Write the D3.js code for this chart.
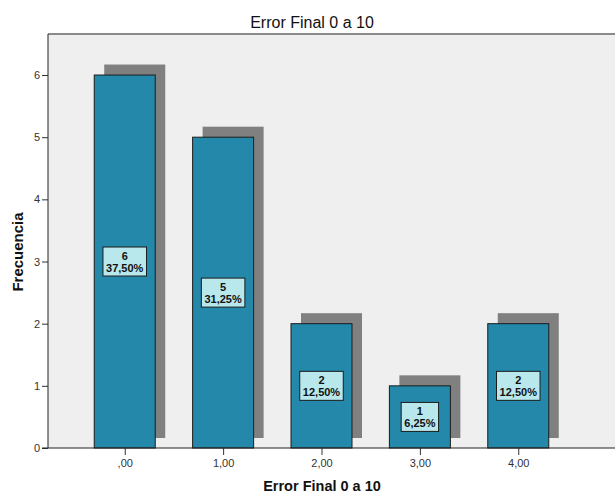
<!DOCTYPE html>
<html>
<head>
<meta charset="utf-8">
<script src="https://cdn.jsdelivr.net/npm/d3@7"></script>
<style>
  body { margin: 0; background: #fff; }
  svg { display: block; font-family: "Liberation Sans", Arial, sans-serif; }
  .tick text { fill: #333; font-size: 11px; }
  .axisTitle { font-weight: bold; fill: #111; }
  .lbl { font-family: "Liberation Sans Narrow", "Arial Narrow", "Liberation Sans", sans-serif; font-weight: bold; font-size: 11px; fill: #111; }
</style>
</head>
<body>
<script>

const categories = [0, 1, 2, 3, 4];
const tickLabels = [",00", "1,00", "2,00", "3,00", "4,00"];
const counts = [6, 5, 2, 1, 2];
const percents = ["37,50%", "31,25%", "12,50%", "6,25%", "12,50%"];
const yTicks = [0, 1, 2, 3, 4, 5, 6];

const data = categories.map((c, i) => ({cat: c, n: counts[i], pct: percents[i], label: tickLabels[i]}));

const w = 615, h = 494;
const margin = ({top: 34, right: 0, bottom: 46, left: 48});
const shadowOff = 10;
const halfBar = 0.31;

const svg = d3.select("body")
    .append("svg")
    .attr("width", w)
    .attr("height", h);

let x = d3.scaleLinear()
    .domain([-0.78, 4.78])
    .range([margin.left, 595]);

let y = d3.scaleLinear()
    .domain([0, 6.66])
    .range([h - margin.bottom, margin.top]);

// plot background
svg.append("rect")
    .attr("x", margin.left)
    .attr("y", margin.top)
    .attr("width", w - margin.left)
    .attr("height", y(0) - margin.top)
    .attr("fill", "#efefef");

svg.append("line")
    .attr("x1", margin.left).attr("x2", w)
    .attr("y1", margin.top).attr("y2", margin.top)
    .attr("stroke", "#8a8a8a")
    .attr("stroke-width", 2);

// shadows
svg.selectAll("rect.shadow")
    .data(data)
    .enter().append("rect")
    .attr("class", "shadow")
    .attr("x", d => x(d.cat - halfBar) + shadowOff)
    .attr("y", d => y(d.n) - shadowOff - 0.5)
    .attr("width", d => x(d.cat + halfBar) - x(d.cat - halfBar))
    .attr("height", d => y(0) - y(d.n) + 0.5)
    .attr("fill", "#808080");

// bars
svg.selectAll("rect.bar")
    .data(data)
    .enter().append("rect")
    .attr("class", "bar")
    .attr("x", d => x(d.cat - halfBar))
    .attr("y", d => y(d.n))
    .attr("width", d => x(d.cat + halfBar) - x(d.cat - halfBar))
    .attr("height", d => y(0) - y(d.n))
    .attr("fill", "#2488aa")
    .attr("stroke", "#1c1c1c")
    .attr("stroke-width", 1);

// axes
let yAxis = d3.axisLeft(y)
    .tickValues(yTicks)
    .tickSize(6)
    .tickPadding(2)
    .tickFormat(d3.format("d"));

let gy = svg.append("g")
    .attr("transform", `translate(${margin.left},0)`)
    .call(yAxis);
gy.select(".domain").remove();
gy.selectAll(".tick line").attr("stroke", "#333");

svg.append("line")
    .attr("x1", margin.left).attr("x2", margin.left)
    .attr("y1", margin.top).attr("y2", y(0))
    .attr("stroke", "#222");

let xAxis = d3.axisBottom(x)
    .tickValues(categories)
    .tickSize(7)
    .tickPadding(4)
    .tickFormat((d, i) => tickLabels[i]);

let gx = svg.append("g")
    .attr("transform", `translate(0,${y(0)})`)
    .call(xAxis);
gx.select(".domain").remove();
gx.selectAll(".tick line").attr("stroke", "#333");

svg.append("line")
    .attr("x1", margin.left - 6).attr("x2", w)
    .attr("y1", y(0)).attr("y2", y(0))
    .attr("stroke", "#222");

// value labels
let lbl = svg.selectAll("g.lbl")
    .data(data)
    .enter().append("g")
    .attr("class", "lbl")
    .attr("transform", d => `translate(${x(d.cat)},${y(d.n / 2)})`);

let box = lbl.append("rect")
    .attr("fill", "#b8e8ec")
    .attr("stroke", "#1c1c1c")
    .attr("stroke-width", 1);

let txt = lbl.append("text")
    .attr("class", "lbl")
    .attr("text-anchor", "middle");

txt.append("tspan").attr("x", 0).attr("y", -2).text(d => d.n);
txt.append("tspan").attr("x", 0).attr("y", 10.5).text(d => d.pct);

txt.each(function() {
    const bb = this.getBBox();
    d3.select(this.parentNode).select("rect")
        .attr("x", -bb.width / 2 - 3)
        .attr("y", -14.5)
        .attr("width", bb.width + 6)
        .attr("height", 29);
});

// titles
svg.append("text")
    .attr("x", 312)
    .attr("y", 27.5)
    .attr("text-anchor", "middle")
    .attr("font-size", "16px")
    .attr("fill", "#111")
    .text("Error Final 0 a 10");

svg.append("text")
    .attr("class", "axisTitle")
    .attr("x", 322)
    .attr("y", 490.5)
    .attr("text-anchor", "middle")
    .attr("font-size", "14.5px")
    .text("Error Final 0 a 10");

svg.append("text")
    .attr("class", "axisTitle")
    .attr("transform", "translate(23,252) rotate(-90)")
    .attr("text-anchor", "middle")
    .attr("font-size", "15px")
    .text("Frecuencia");

</script>
</body>
</html>
